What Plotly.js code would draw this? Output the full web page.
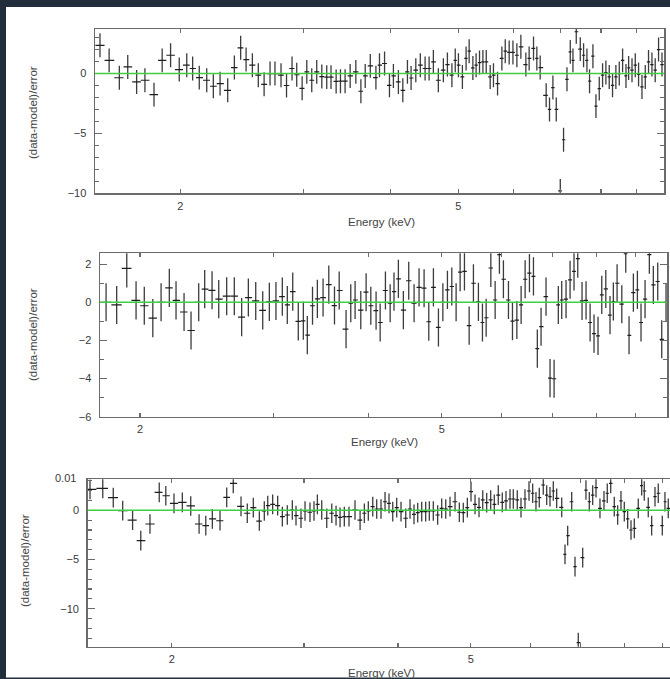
<!DOCTYPE html>
<html><head><meta charset="utf-8">
<script src="https://cdn.plot.ly/plotly-3.0.1.min.js"></script>
<style>html,body{margin:0;padding:0;background:#232e3c;overflow:hidden}</style>
</head><body><div id="chart" style="width:670px;height:679px"></div>
<script>
// ---- Data (energy in keV, residual in sigma) ----
const energy1 = [1.535,1.582,1.636,1.682,1.732,1.78,1.834,1.884,1.937,1.993,
2.043,2.083,2.129,2.182,2.23,2.28,2.338,2.39,2.44,2.484,
2.536,2.586,2.636,2.688,2.732,2.787,2.838,2.89,2.935,2.988,
3.034,3.084,3.135,3.188,3.24,3.286,3.342,3.39,3.442,3.5,
3.566,3.626,3.678,3.74,3.81,3.855,3.92,3.984,4.036,4.103,
4.163,4.227,4.278,4.345,4.41,4.48,4.54,4.604,4.68,4.758,
4.822,4.894,4.948,5.0,5.066,5.128,5.18,5.244,5.3,5.36,
5.42,5.48,5.552,5.612,5.688,5.77,5.834,5.91,5.984,6.062,
6.142,6.244,6.312,6.404,6.474,6.546,6.676,6.75,6.826,6.902,
6.994,7.07,7.15,7.228,7.292,7.372,7.47,7.552,7.636,7.702,
7.788,7.866,7.952,8.04,8.128,8.218,8.308,8.4,8.494,8.588,
8.684,8.76,8.858,8.954,9.052,9.154,9.254,9.354,9.46,9.562,
9.668,9.778];
const resid1 = [2.36,1.1,-0.35,0.55,-0.7,-0.56,-1.76,1.1,1.53,0.33,
0.7,0.42,-0.34,-0.56,-1.06,-0.84,-1.4,0.5,2.15,1.17,
0.7,-0.14,-0.9,0,0,-0.14,-1.0,0.42,-0.1,-1.23,
0.14,-0.56,0.14,-0.25,-0.3,-0.3,-0.66,-0.64,-0.64,-0.2,
0.14,-1.48,-0.2,0.64,-0.34,0.7,0.84,-0.98,-0.2,-0.7,
-1.4,0.14,-0.37,0.28,0.7,0.42,0.42,0.97,-0.56,0.28,
0.75,-0.14,1.1,0.7,-0.28,1.26,1.87,0.47,0.7,0.92,
0.97,0.97,-0.28,-0.14,-0.84,1.26,1.87,1.76,1.76,1.53,
2.23,0.75,1.26,2.1,1.26,0.5,-1.82,-3.0,-1.17,-3.0,
-9.8,-5.53,-0.48,1.81,1.1,3.49,2.04,1.53,1.1,-0.64,
1.45,-2.72,-1.26,-0.14,0.08,-0.28,-0.98,-0.28,0,1.1,
-0.2,0.47,0.28,0.7,-0.08,-1.12,-0.28,0.97,0.75,0.28,
2.0,0.75];

const energy2 = [1.804,1.863,1.921,1.976,2.026,2.079,2.132,2.186,2.231,2.286,
2.335,2.39,2.434,2.489,2.54,2.602,2.663,2.723,2.779,2.842,
2.903,2.962,3.022,3.081,3.128,3.18,3.234,3.284,3.324,3.377,
3.427,3.487,3.548,3.61,3.662,3.739,3.793,3.843,3.91,3.974,
4.031,4.096,4.147,4.214,4.275,4.325,4.383,4.45,4.523,4.597,
4.667,4.739,4.807,4.875,4.95,5.017,5.087,5.155,5.223,5.287,
5.357,5.434,5.505,5.589,5.658,5.722,5.804,5.88,5.957,6.03,
6.123,6.198,6.281,6.363,6.441,6.526,6.606,6.684,6.76,6.863,
6.947,7.033,7.124,7.198,7.293,7.383,7.472,7.557,7.656,7.75,
7.846,7.94,8.037,8.129,8.229,8.335,8.42,8.516,8.639,8.743,
8.831,8.948,9.058,9.158,9.271,9.393,9.507,9.635,9.753,9.881];
const resid2 = [0.0,-0.14,1.78,0.1,-0.18,-0.83,0,0.76,0.1,-0.51,
-1.48,0,0.69,0.63,0.17,0.32,0.32,-0.78,0.25,0.07,
-0.42,0.02,0.07,0.3,-0.14,0.56,-1.0,-0.97,-1.72,-0.18,
0.18,0.25,0.93,-0.17,0.62,-1.41,-0.05,0.12,-0.41,0.53,
-0.18,-0.44,-1.06,0.62,-0.05,0.56,1.23,-0.41,1.13,-0.05,
0.78,0.74,-1.02,0.78,-1.32,0,0.65,0.83,0,1.58,
1.62,-1.22,1.0,0.02,-1.06,-0.81,1.8,0.12,2.5,1.21,
0.12,-0.99,-0.93,-0.14,1.21,1.53,1.36,-2.43,-1.28,0.3,
-3.98,-4.01,-0.14,0.12,0.17,1.18,1.62,2.29,0.07,0.1,
-1.06,-1.64,-1.76,0.39,0.7,-0.67,0.04,1.0,-0.1,2.55,
-1.73,0.51,0.65,-1.06,0.17,2.5,0.91,1.09,-1.94,0];

const energy3 = [1.557,1.619,1.672,1.721,1.774,1.819,1.871,1.925,1.964,2.014,
2.066,2.12,2.175,2.22,2.265,2.319,2.367,2.415,2.473,2.521,
2.568,2.616,2.656,2.684,2.725,2.767,2.807,2.85,2.894,2.927,
2.972,3.009,3.055,3.093,3.125,3.167,3.216,3.266,3.309,3.35,
3.394,3.443,3.507,3.562,3.609,3.653,3.703,3.748,3.798,3.845,
3.892,3.937,3.985,4.038,4.097,4.151,4.202,4.25,4.302,4.355,
4.404,4.458,4.518,4.574,4.631,4.692,4.765,4.828,4.887,4.948,
5.004,5.066,5.128,5.187,5.25,5.315,5.374,5.44,5.507,5.57,
5.639,5.696,5.766,5.832,5.904,5.977,6.045,6.106,6.168,6.244,
6.31,6.374,6.439,6.506,6.607,6.674,6.729,6.812,6.882,6.951,
7.046,7.117,7.19,7.265,7.339,7.429,7.521,7.597,7.677,7.762,
7.843,7.923,8.004,8.087,8.17,8.253,8.354,8.442,8.509,8.614,
8.704,8.793,8.882,8.992,9.066,9.158];
const resid3 = [2.13,2.23,1.28,-0.04,-0.99,-3.09,-1.39,1.83,1.48,0.71,
0.81,0.44,-1.39,-1.56,-0.88,-1.06,1.32,2.74,0.4,-0.3,
0.27,-1.09,-0.07,0.47,0.61,0.47,-0.65,-0.48,0.03,-0.55,
-0.81,-0.07,-0.2,-0.07,0.61,0.03,-0.81,-0.3,-0.55,-0.71,
-0.65,-0.65,0.03,-0.99,-0.3,-0.07,0.37,0.13,0.13,0.87,
0.71,-0.14,0.27,-0.14,-0.81,0.13,-0.41,-0.24,-0.14,-0.14,
-0.07,-0.07,-0.48,0.2,0.13,0.37,0.87,-0.2,-0.24,0.27,
1.89,0.61,0.3,1.05,0.77,1.05,0.61,1.55,0.81,0.95,
1.15,1.15,1.05,0.27,1.15,1.96,1.73,0.87,1.28,2.57,
1.55,1.38,1.96,1.22,0.3,-4.47,-2.58,0.87,-5.73,-13.45,
-4.81,2.06,0.87,1.55,2.3,0.2,0.95,1.73,2.74,0.37,
-0.48,0.95,-0.14,-0.88,-2.0,-1.83,0.2,2.5,1.96,0.3,
-1.56,1.38,1.73,-1.56,0.87,0.2];

const xTickVals = [2,3,4,5,6,7,8,9];
const xTickText = ['2','','','5','','','',''];
const yTitle = '(data-model)/error';
const xTitle = 'Energy (keV)';
const sigma = 1;   // residuals in units of sigma -> error bar of +/-1

// ---- helpers ----
// contiguous energy bins: edges at geometric midpoints between channels
function binHalf(e){
  const plus=[], minus=[];
  for(let i=0;i<e.length;i++){
    const up = i<e.length-1 ? Math.sqrt(e[i]*e[i+1]) : null;
    const lo = i>0 ? Math.sqrt(e[i-1]*e[i]) : null;
    let p = up!==null ? up-e[i] : null;
    let m = lo!==null ? e[i]-lo : null;
    if(p===null) p = m*e[i]/lo;
    if(m===null) m = p*e[i]/up;
    plus.push(p); minus.push(m);
  }
  return {plus, minus};
}
function resTrace(e, r, xa, ya){
  const b = binHalf(e);
  return {type:'scatter', mode:'markers', x:e, y:r, xaxis:xa, yaxis:ya,
    marker:{size:1, color:'rgba(0,0,0,0)'}, hoverinfo:'x+y',
    error_y:{type:'constant', value:sigma, width:0, thickness:1.3, color:'#3c3c3c'},
    error_x:{type:'data', array:b.plus, arrayminus:b.minus, symmetric:false, width:0, thickness:1.2, color:'#1e1e1e'}};
}
const frame = '#6b6b6b';
const fontFam = 'Liberation Sans, Arial, sans-serif';
const tickFont = {family:fontFam, size:11, color:'#3a3a3a'};
function xAxis(range, domain, anchor){
  return {type:'log', range, domain, anchor, showline:true, linecolor:frame, linewidth:1.5,
    mirror:'allticks', ticks:'inside', ticklen:4, tickwidth:1.2, tickcolor:frame,
    tickmode:'array', tickvals:xTickVals, ticktext:xTickText, tickfont:tickFont,
    ticklabelstandoff:2, showgrid:false, zeroline:false, automargin:false, fixedrange:true};
}
function yAxis(range, domain, anchor, dtick, mirror){
  return {range, domain, anchor, showline:true, linecolor:frame, linewidth:1.5,
    mirror, ticks:'inside', ticklen:7, tickwidth:1.2, tickcolor:frame,
    tickmode:'linear', tick0:0, dtick, tickfont:tickFont, ticklabelstandoff:5,
    minor:{tickmode:'linear', tick0:0, dtick:1, ticks:'inside', ticklen:4, tickwidth:1.1, tickcolor:frame},
    showgrid:false, zeroline:false, automargin:false, fixedrange:true};
}
const W=670, H=679;
const px = v => v/W, py = v => (H-v)/H;

const data = [
  resTrace(energy1, resid1, 'x', 'y'),
  resTrace(energy2, resid2, 'x2', 'y2'),
  resTrace(energy3, resid3, 'x3', 'y3')
];
const green = {color:'#3fcf3f', width:1.5};
const ann = (text, x, y, extra) => Object.assign({text, x, y, xref:'paper', yref:'paper',
  showarrow:false, xanchor:'center', yanchor:'middle',
  font:{family:fontFam, size:11.5, color:'#444'}}, extra||{});

const layout = {
  width:W, height:H, margin:{l:0,r:0,t:0,b:0}, showlegend:false,
  paper_bgcolor:'#232e3c', plot_bgcolor:'#ffffff',
  xaxis:  xAxis([Math.log10(1.51), Math.log10(9.843)], [px(95), px(664)], 'y'),
  yaxis:  yAxis([-10, 3.72], [py(193.3), py(29)], 'x', 5, 'allticks'),
  xaxis2: xAxis([Math.log10(1.771), Math.log10(9.91)], [px(100), px(667)], 'y2'),
  yaxis2: yAxis([-6, 2.57], [py(416.7), py(253.3)], 'x2', 2, 'allticks'),
  xaxis3: xAxis([Math.log10(1.546), Math.log10(9.207)], [px(87.7), 1], 'y3'),
  yaxis3: yAxis([-13.86, 3.15], [py(646.7), py(479.3)], 'x3', 5, false),
  shapes:[
    {type:'rect', xref:'paper', yref:'paper', x0:px(6), x1:1, y0:py(677.5), y1:py(7), fillcolor:'#ffffff', line:{width:0}, layer:'below'},
    {type:'line', xref:'x domain', yref:'y', x0:0, x1:1, y0:0, y1:0, line:green, layer:'above'},
    {type:'line', xref:'x2 domain', yref:'y2', x0:0, x1:1, y0:0, y1:0, line:green, layer:'above'},
    {type:'line', xref:'x3 domain', yref:'y3', x0:0, x1:1, y0:0, y1:0, line:green, layer:'above'}
  ],
  annotations:[
    ann(yTitle, px(33), py(113), {textangle:-90}),
    ann(yTitle, px(33), py(335), {textangle:-90}),
    ann(yTitle, px(25), py(560), {textangle:-90}),
    ann(xTitle, px(381), py(221.7)),
    ann(xTitle, px(384), py(441.7)),
    ann(xTitle, px(381), py(672.5)),
    ann('0.01', px(65), py(477.7), {font:{family:fontFam, size:11, color:'#3a3a3a'}})
  ]
};
Plotly.newPlot('chart', data, layout, {displayModeBar:false, staticPlot:true});
</script></body></html>
